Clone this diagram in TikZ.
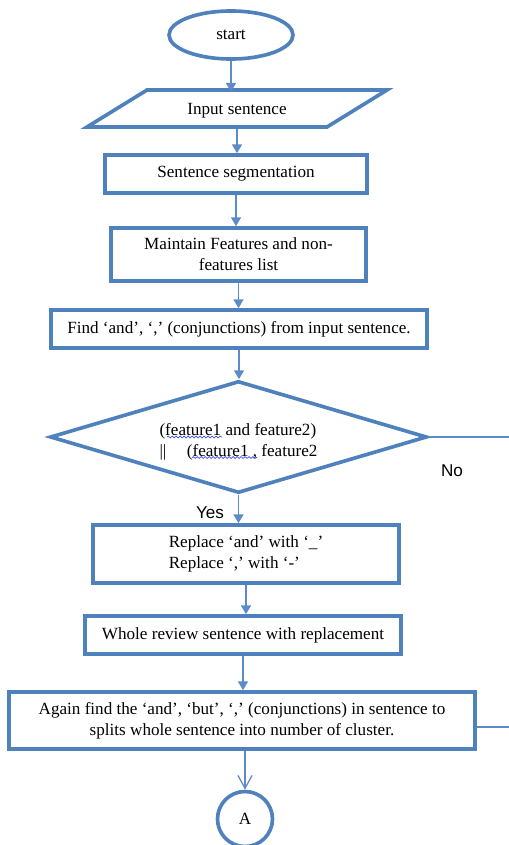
\documentclass[tikz,border=0pt]{standalone}
\usepackage{fontspec}
\setmainfont{Liberation Serif}
\newfontfamily\answerfont{Liberation Sans}
\usetikzlibrary{shapes.geometric,arrows.meta,decorations.pathmorphing}
\definecolor{flowblue}{RGB}{79,129,189}
\definecolor{linkblue}{RGB}{91,140,201}
\definecolor{spellblue}{RGB}{60,80,230}

\begin{document}
\begin{tikzpicture}[x=0.03cm, y=-0.03cm,
  every node/.style={font=\fontsize{14.6}{17.9}\selectfont},
  flowline/.style={draw=flowblue, line width=3.1pt},
  box/.style={flowline, inner sep=0pt},
  plain/.style={draw=linkblue, line width=1.1pt},
  link/.style={plain, -{Triangle[length=7.5pt,width=8.5pt]}},
  answer/.style={font=\fontsize{14.6}{17}\answerfont},
  squiggle/.style={spellblue, line width=0.6pt, decorate, decoration={snake, amplitude=0.8pt, segment length=3.4pt}}]

\useasboundingbox (0,0) rectangle (509,845);

% start and input
\node[box, ellipse, minimum width=3.72cm, minimum height=1.44cm] (start) at (231,35) {start};
\draw[flowline, line join=miter] (87,127) -- (147,90) -- (387,90) -- (327,127) -- cycle;
\node[minimum width=7.2cm, minimum height=1.11cm, inner sep=0pt] (inp) at (237,110.5) {Input sentence};

% processing steps
\node[box, minimum width=7.86cm, minimum height=1.14cm] (seg) at (236,174) {Sentence segmentation};
\node[box, minimum width=7.65cm, minimum height=1.59cm, align=center] (maint) at (238.5,254.5) {Maintain Features and non-\\features list};
\node[box, minimum width=11.28cm, minimum height=1.14cm] (find) at (239,329) {Find ‘and’, ‘,’ (conjunctions) from input sentence.};

% decision
\node[box, diamond, minimum width=11.31cm, minimum height=3.36cm] (cond) at (238.5,437) {};
\node[align=left] (condText) at (238.5,442) {(feature1 and feature2)\\||\hspace{1.2em}(feature1 , feature2};
\draw[squiggle] (167,437) -- (222,437);
\draw[squiggle] (192,457.5) -- (257,457.5);
\node[answer] (yes) at (210,513) {Yes};
\node[answer] (no) at (452,471) {No};

% after the decision
\node[box, minimum width=9.18cm, minimum height=1.74cm, align=left] (repl) at (246,554) {Replace ‘and’ with ‘\_’\\Replace ‘,’ with ‘-’};
\node[box, minimum width=9.48cm, minimum height=1.14cm] (whole) at (243,635) {Whole review sentence with replacement};
\node[box, minimum width=13.98cm, minimum height=1.71cm, align=center] (again) at (242,720.5) {Again find the ‘and’, ‘but’, ‘,’ (conjunctions) in sentence to\\splits whole sentence into number of cluster.};
\node[box, circle, minimum size=1.65cm] (conA) at (245,819) {A};

% free ends at the right margin
\coordinate (noEnd) at (509,437);
\coordinate (clusterEnd) at (509,727);

% connectors
\draw[link] (start.south) -- (start.south |- inp.north);
\draw[link] (inp.south) -- (inp.south |- seg.north);
\draw[link] (seg.south) -- (seg.south |- maint.north);
\draw[link] (maint.south) -- (maint.south |- find.north);
\draw[link] (find.south) -- (find.south |- cond.north);
\draw[link] (cond.south) -- (cond.south |- repl.north);
\draw[plain] (cond.east) -- (noEnd);
\draw[link] (repl.south) -- (repl.south |- whole.north);
\draw[link] (whole.south) -- (whole.south |- again.north);
\draw[plain] (again.east |- clusterEnd) -- (clusterEnd);
\draw[plain, -{Straight Barb[length=11pt,width=12pt]}] (conA.north |- again.south) -- (conA.north);

\end{tikzpicture}
\end{document}
